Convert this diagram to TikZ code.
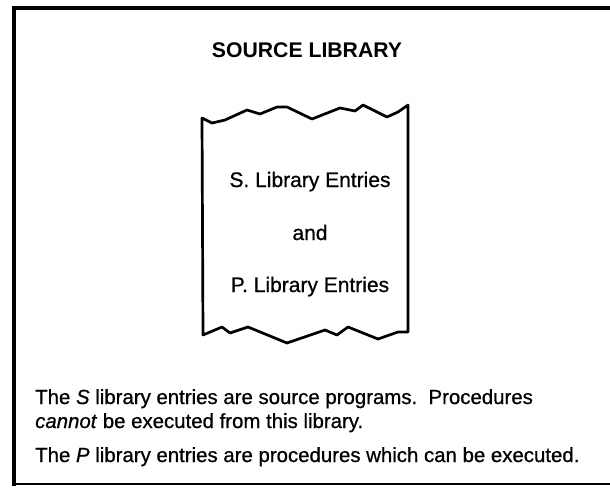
\documentclass[tikz,border=0pt]{standalone}
\usepackage{fontspec}
\setmainfont{Liberation Sans}
\newfontfamily\medfont{Liberation Sans}[FakeBold=0.7]
\begin{document}
\begin{tikzpicture}[x=1pt,y=-1pt,
  frameline/.style={draw=black,line width=3.4pt},
  docline/.style={draw=black,line width=2.7pt,line join=round,line cap=round},
  titletext/.style={font=\fontsize{21.2}{25}\selectfont\bfseries,inner sep=0pt,anchor=base},
  doctext/.style={font=\medfont\fontsize{21}{25}\selectfont,inner sep=0pt,anchor=base},
  bodytext/.style={font=\medfont\fontsize{20.4}{25}\selectfont,inner sep=0pt,anchor=base west}]
\useasboundingbox (0,0) rectangle (610,487);
% frame
\draw[frameline] (612,8) -- (14,8) -- (14,485.5);
\draw[black,line width=1.4pt] (13,484) -- (612,484);
% document shape
\draw[docline] (202,118) -- (212,123) -- (225,120) -- (247,110) -- (260,114) -- (277,107) -- (287,107) -- (312,119) -- (340,108) -- (355,111) -- (363,105) -- (387,117) -- (398,112) -- (408,105)
  -- (408,332) -- (398,332) -- (378,339) -- (348,327) -- (337,335) -- (325,330) -- (287,343) -- (248,327) -- (230,333) -- (222,327) -- (203,335) -- cycle;
% texts
\node[titletext] (title) at (307,57.5) {SOURCE LIBRARY};
\node[doctext] (sentries) at (310,187) {S. Library Entries};
\node[doctext] (and) at (310,240) {and};
\node[doctext] (pentries) at (310,292) {P. Library Entries};
\node[bodytext] (l1) at (35,404) {The \textit{S} library entries are source programs.\ \ Procedures};
\node[bodytext] (l2) at (35,428) {\textit{cannot} be executed from this library.};
\node[bodytext] (l3) at (35,462) {The \textit{P} library entries are procedures which can be executed.};
\end{tikzpicture}
\end{document}
